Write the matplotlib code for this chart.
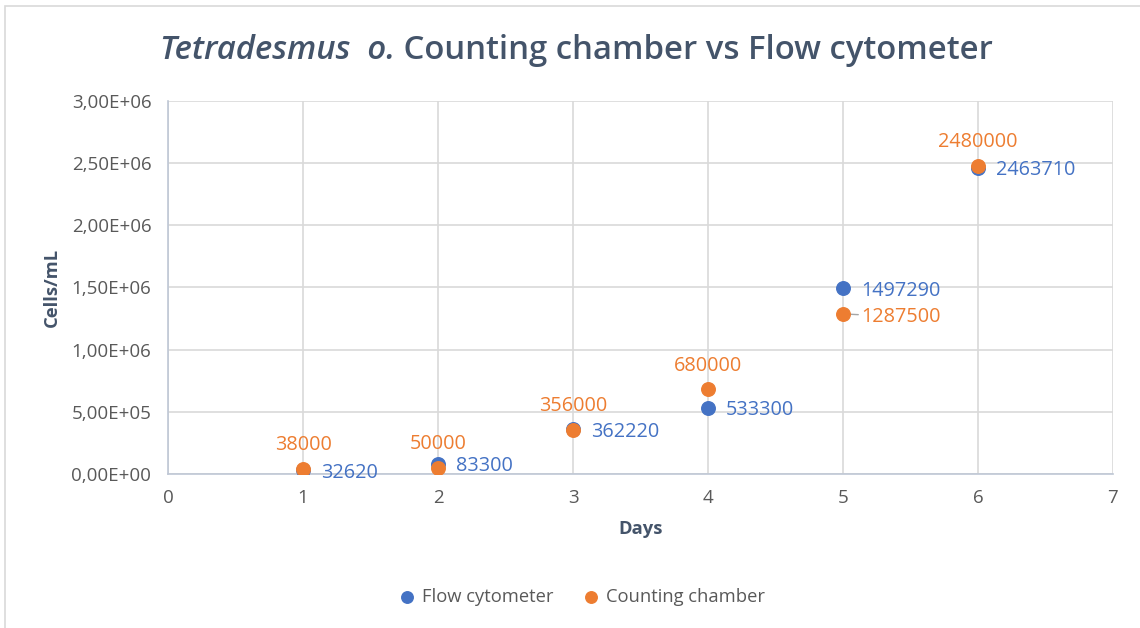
import matplotlib

matplotlib.use("Agg")
import matplotlib.pyplot as plt
from matplotlib.patches import Rectangle
from matplotlib.ticker import FuncFormatter, MultipleLocator

days = [1, 2, 3, 4, 5, 6]
flow_cytometer = [32620, 83300, 362220, 533300, 1497290, 2463710]
counting_chamber = [38000, 50000, 356000, 680000, 1287500, 2480000]

BLUE = "#4472C4"
ORANGE = "#ED7D31"
TICK = "#595959"
DARK = "#44546A"
GRID = "#D9D9D9"

plt.rcParams["font.family"] = ["Open Sans", "DejaVu Sans"]

fig = plt.figure(figsize=(11.4, 6.28), dpi=100)
fig.patches.append(Rectangle((0.004, -0.01), 1.0, 1.0, transform=fig.transFigure,
                             fill=False, edgecolor="#D9D9D9", linewidth=1.2))
ax = fig.add_axes([0.1474, 0.2452, 0.8289, 0.594])

ax.scatter(days, flow_cytometer, s=95, color=BLUE, zorder=3, label="Flow cytometer")
ax.scatter(days, counting_chamber, s=95, color=ORANGE, zorder=4, label="Counting chamber")

# data labels: blue to the right, orange above (day 5 to the right with leader)
LBL = 14.3
for d, v in zip(days, flow_cytometer):
    ax.annotate(str(v), (d, v), xytext=(13, -2), textcoords="offset points",
                ha="left", va="center", color=BLUE, fontsize=LBL)
for d, v in zip(days, counting_chamber):
    if d == 5:
        ax.annotate(str(v), (d, v), xytext=(13, -2), textcoords="offset points",
                    ha="left", va="center", color=ORANGE, fontsize=LBL,
                    arrowprops=dict(arrowstyle="-", color="#A6A6A6", lw=1,
                                    shrinkA=0, shrinkB=2))
    else:
        ax.annotate(str(v), (d, v), xytext=(0, 10), textcoords="offset points",
                    ha="center", va="bottom", color=ORANGE, fontsize=LBL)

ax.set_xlim(0, 7)
ax.set_ylim(0, 3e6)
ax.xaxis.set_major_locator(MultipleLocator(1))
ax.yaxis.set_major_locator(MultipleLocator(5e5))
ax.yaxis.set_major_formatter(FuncFormatter(lambda v, p: f"{v:.2E}".replace(".", ",")))
ax.grid(True, color=GRID, linewidth=1.2, zorder=0)
ax.set_axisbelow(True)
for side in ["top", "right"]:
    ax.spines[side].set_visible(False)
for side in ["left", "bottom"]:
    ax.spines[side].set_color("#BFC7D5")
    ax.spines[side].set_linewidth(1.2)
ax.tick_params(length=0, labelsize=13.5, labelcolor=TICK, pad=12)
ax.tick_params(axis="x", pad=11)

ax.set_xlabel("Days", fontsize=13.2, fontweight="bold", color=DARK, labelpad=9)
ax.set_ylabel("Cells/mL", fontsize=13.2, fontweight="bold", color=DARK, labelpad=8)

# title: italic species name followed by normal text
renderer = fig.canvas.get_renderer()
t1 = fig.text(0, 0.92, "Tetradesmus  o.", fontsize=23.7, style="italic", color=DARK,
              fontweight="semibold", va="center", ha="left")
t2 = fig.text(0, 0.92, " Counting chamber vs Flow cytometer", fontsize=23.7, color=DARK,
              fontweight="semibold", va="center", ha="left")
w1 = t1.get_window_extent(renderer).width / fig.bbox.width
w2 = t2.get_window_extent(renderer).width / fig.bbox.width
x0 = 0.506 - (w1 + w2) / 2
t1.set_x(x0)
t2.set_x(x0 + w1)

fig.legend(loc="center", bbox_to_anchor=(0.506, 0.049), ncol=2, frameon=False,
           fontsize=13.2, labelcolor=TICK, handletextpad=-0.15, columnspacing=1.0,
           markerscale=0.85)

plt.savefig("out.png", dpi=100)
plt.close()
